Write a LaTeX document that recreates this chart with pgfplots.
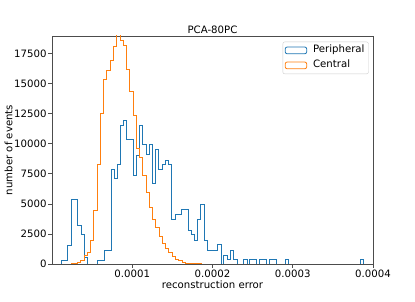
\documentclass[border=0pt]{standalone}
\usepackage{pgfplots}
\pgfplotsset{compat=1.18}
\usepackage{fontspec}
\setmainfont{DejaVu Sans}
\definecolor{tabblue}{HTML}{1F77B4}
\definecolor{taborange}{HTML}{FF7F0E}
\newcommand{\chartfont}{\fontsize{10.2}{12}\selectfont}
\begin{document}
\begin{tikzpicture}[x=1bp,y=1bp]
\useasboundingbox (-52,-38) rectangle (363,264);
\begin{axis}[
  at={(0,0)}, anchor=south west,
  scale only axis, width=321bp, height=228bp,
  xmin=0, xmax=40, ymin=0, ymax=18940,
  xtick={10,20,30,40}, xticklabels={0.0001,0.0002,0.0003,0.0004},
  ytick={0,2500,5000,7500,10000,12500,15000,17500},
  scaled y ticks=false,
  /pgf/number format/1000 sep={},
  /pgf/number format/assume math mode=true,
  tick align=outside, tick pos=left, major tick length=3.5bp,
  every tick/.style={black!70, line width=0.6bp},
  axis line style={black!70, line width=0.6bp},
  tick label style={font=\chartfont},
  xticklabel style={yshift=1bp},
  yticklabel style={xshift=1.5bp},
  label style={font=\chartfont},
  every axis title shift=0pt,
  title={PCA-80PC},
  title style={font=\chartfont, at={(axis description cs:0.5,1)}, anchor=base, yshift=2.7bp},
  xlabel={reconstruction error}, ylabel={number of events},
  xlabel style={at={(axis description cs:0.5,0)}, anchor=center, yshift=-20.5bp},
  ylabel style={at={(axis description cs:-0.1355,0.5)}, anchor=center},
  legend cell align=left,
  legend image code/.code={\draw[#1, line width=0.8bp] (0bp,-3.4bp) rectangle (21.5bp,3.4bp);},
  legend style={at={(0.9866,0.975)}, anchor=north east, draw=black!20, fill=white, fill opacity=0.8, text opacity=1,
    rounded corners=2bp, font=\chartfont, row sep=1bp, inner xsep=2bp, inner ysep=1.5bp,
    nodes={inner sep=2bp, text height=7.6bp, text depth=2.4bp},
    /tikz/every odd column/.append style={column sep=4bp}},
]
\addplot[const plot mark left, tabblue, line width=0.8bp] coordinates {
(1.121,0) (1.121,330) (1.956,1580) (2.393,5330) (3.202,3190) (3.614,2440)
(4.050,550) (4.436,0) (5.670,330) (6.517,1170) (7.340,7830) (7.788,7100)
(8.162,8250) (8.511,11525) (8.910,11940) (9.308,10330) (10.093,7400)
(10.530,9025) (10.903,11525) (11.315,9900) (11.738,9100) (12.137,9900)
(12.523,6700) (12.897,9500) (13.308,7830) (13.707,8270) (14.081,8600)
(14.492,8270) (14.916,3670) (15.327,4100) (16.162,4500) (16.984,2830)
(17.321,2440) (17.720,2000) (18.131,3670) (18.542,4940) (18.978,2000)
(19.377,1170) (20.598,1610) (21.059,0) (21.346,750) (21.807,420)
(22.218,1170) (22.642,420) (23.053,0) (23.801,380) (24.299,0)
(24.636,380) (25.458,0) (25.882,380) (26.704,0) (27.128,380) (27.950,0)
(29.072,380) (29.495,0) (38.417,380) (38.841,0)
};
\addlegendentry{Peripheral}
\addplot[const plot mark left, taborange, line width=0.8bp] coordinates {
(2.368,0) (2.368,30) (2.775,50) (3.181,130) (3.588,330) (3.994,690)
(4.401,970) (4.808,2000) (5.214,4440) (5.621,8270) (6.027,12500)
(6.434,15300) (6.841,16110) (7.247,16940) (7.654,18100) (8.060,19500)
(8.467,18600) (8.874,18190) (9.280,16170) (9.687,14300) (10.093,12360)
(10.500,9580) (10.907,8890) (11.313,7360) (11.720,5970) (12.126,4720)
(12.533,3670) (12.940,3050) (13.346,2275) (13.753,1720) (14.159,1330)
(14.566,970) (14.973,610) (15.379,410) (15.786,275) (16.192,130)
(16.599,80) (17.006,50) (17.412,30) (17.819,20) (18.225,10) (18.632,5)
(19.040,0) (40,0)
};
\addlegendentry{Central}
\end{axis}
\end{tikzpicture}
\end{document}
